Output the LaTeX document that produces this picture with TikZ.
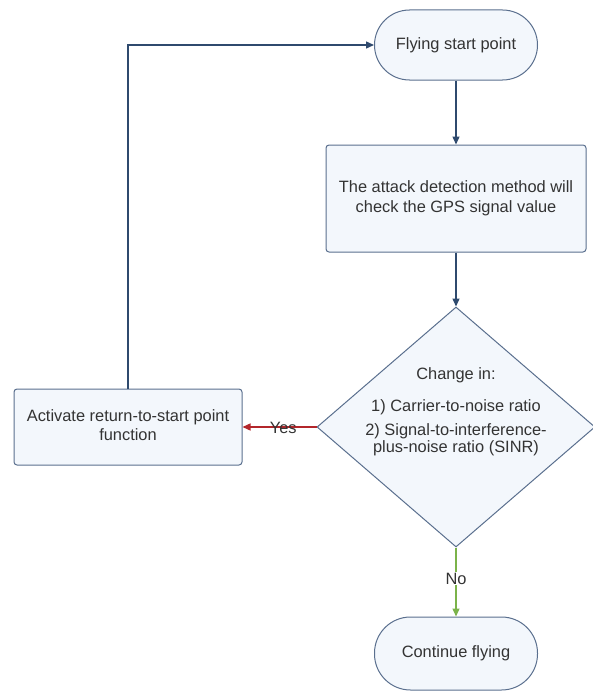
\documentclass[tikz,border=0pt]{standalone}
\usepackage{fontspec}
\setmainfont{Liberation Sans}
\usetikzlibrary{shapes.geometric,arrows.meta}
\definecolor{edge}{HTML}{5A6F8E}
\definecolor{fillc}{HTML}{F3F7FC}
\definecolor{navy}{HTML}{2F4A6E}
\definecolor{redc}{HTML}{B3262B}
\definecolor{greenc}{HTML}{7BB34A}
\definecolor{txt}{HTML}{333333}
\tikzset{
  fnt/.style={font=\fontsize{16.4}{19.5}\selectfont},
  base/.style={draw=edge, fill=fillc, line width=1pt, text=txt, fnt, align=center, inner sep=0pt},
  pill/.style={base, rounded corners=35pt, minimum width=163pt, minimum height=70pt},
  proc/.style={base, rounded corners=3pt},
  dec/.style={base, diamond, minimum width=278pt, minimum height=240pt},
  flow/.style={draw=navy, line width=1.4pt, -{Triangle[length=8pt,width=7pt]}},
  yesflow/.style={draw=redc, line width=1.4pt, -{Triangle[length=8pt,width=7pt]}},
  noflow/.style={draw=greenc, line width=1.4pt, -{Triangle[length=8pt,width=7pt]}},
  lbl/.style={text=txt, fnt, inner sep=1pt}
}
\begin{document}
\begin{tikzpicture}[x=1pt,y=-1pt]
\useasboundingbox (0,0) rectangle (593,693);
\node[pill] (start) at (456,45) {Flying start point};
\node[proc, minimum width=260pt, minimum height=107pt] (check) at (456,198.5) {The attack detection method will\\check the GPS signal value};
\node[dec] (dec) at (456,427) {};
\node[text=txt, font=\fontsize{16.4}{17.5}\selectfont, align=center, inner sep=0pt] (dectext) at (456,412) {Change in:\\[15pt]1) Carrier-to-noise ratio\\[6pt]2) Signal-to-interference-\\plus-noise ratio (SINR)};
\node[proc, minimum width=228pt, minimum height=76pt, text depth=4pt] (act) at (128,427) {Activate return-to-start point\\function};
\node[pill, minimum height=73pt, rounded corners=36pt] (cont) at (456,653.5) {Continue flying};
\draw[flow] (start.south) -- (check.north);
\draw[flow] (check.south) -- (dec.north);
\draw[yesflow] (dec.west) -- node[lbl, pos=0.45, yshift=-1pt] {Yes} (act.east);
\draw[noflow] (dec.south) -- node[lbl, fill=white, pos=0.45] {No} (cont.north);
\draw[flow] (act.north) |- (start.west);
\end{tikzpicture}
\end{document}
